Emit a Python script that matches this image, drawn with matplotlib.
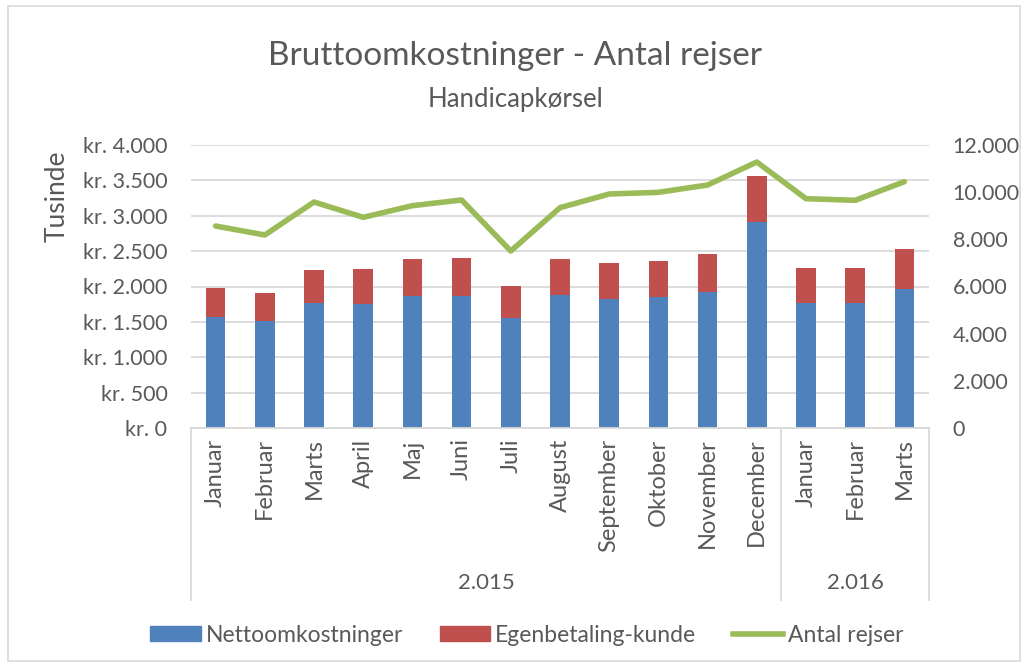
import matplotlib
matplotlib.use("Agg")
import matplotlib.pyplot as plt
from matplotlib.patches import Rectangle, Patch
from matplotlib.lines import Line2D
import numpy as np

months = ["Januar", "Februar", "Marts", "April", "Maj", "Juni", "Juli", "August",
          "September", "Oktober", "November", "December", "Januar", "Februar", "Marts"]
years = ["2.015", "2.016"]
year_counts = [12, 3]
netto = [1565, 1508, 1762, 1757, 1870, 1861, 1559, 1875, 1828, 1847, 1927, 2916, 1767, 1771, 1965]
total = [1975, 1908, 2233, 2243, 2393, 2398, 2007, 2384, 2332, 2365, 2464, 3566, 2257, 2257, 2526]
egen = [t - n for t, n in zip(total, netto)]
rejser = [8565, 8184, 9583, 8933, 9427, 9668, 7505, 9342, 9922, 9993, 10304, 11279, 9724, 9654, 10445]
left_ticks = [0, 500, 1000, 1500, 2000, 2500, 3000, 3500, 4000]
right_ticks = [0, 2000, 4000, 6000, 8000, 10000, 12000]

plt.rcParams['font.family'] = ['Lato', 'DejaVu Sans']
TXT = '#595959'
BLUE = '#4F81BD'
RED = '#C0504D'
GREEN = '#9BBB59'
GRID = '#D9D9D9'

fig = plt.figure(figsize=(10.26, 6.67), dpi=100)
fig.patches.append(Rectangle((8/1026, 6/667), 1012/1026, 655/667, transform=fig.transFigure,
                             fill=False, edgecolor=GRID, linewidth=1.2))

ax = fig.add_axes([191/1026, 1-428/667, 738/1026, 283/667])
x = np.arange(len(months))
ax.bar(x, netto, width=0.4, color=BLUE, zorder=2)
ax.bar(x, egen, width=0.4, bottom=netto, color=RED, zorder=2)
ax.set_xlim(-0.5, len(months) - 0.5)
ax.set_ylim(0, 4000)
ax.set_yticks(left_ticks)
ax.set_yticklabels(["kr. " + f"{v:,}".replace(",", ".") for v in left_ticks])
ax.tick_params(axis='y', length=0, pad=17, labelsize=15.5, labelcolor=TXT)
ax.set_xticks([])
ax.grid(axis='y', color=GRID, linewidth=1.3, zorder=0)
ax.set_axisbelow(True)
for s in ['top', 'right', 'left']:
    ax.spines[s].set_visible(False)
ax.spines['bottom'].set_color(GRID)
ax.spines['bottom'].set_linewidth(1.3)
ax.set_ylabel("Tusinde", fontsize=19, color=TXT)
ax.yaxis.set_label_coords(-0.165, 0.82)

ax2 = ax.twinx()
ax2.plot(x, rejser, color=GREEN, linewidth=4, solid_capstyle='round', zorder=3)
ax2.set_ylim(0, 12000)
ax2.set_yticks(right_ticks)
ax2.set_yticklabels([f"{v:,}".replace(",", ".") for v in right_ticks])
ax2.tick_params(axis='y', length=0, pad=17, labelsize=15.5, labelcolor=TXT)
for s in ['top', 'right', 'left', 'bottom']:
    ax2.spines[s].set_visible(False)

tr = ax.get_xaxis_transform()
for i, m in enumerate(months):
    ax.text(i, -0.037, m, rotation=90, ha='center', va='top', fontsize=17, color=TXT, transform=tr)
bottom_y = -0.608
start = -0.5
for yl, c in zip(years, year_counts):
    ax.add_line(Line2D([start, start], [0, bottom_y], transform=tr, color=GRID, lw=1.3, clip_on=False))
    ax.text(start + c / 2, -0.548, yl, ha='center', va='center', fontsize=16, color=TXT, transform=tr)
    start += c
ax.add_line(Line2D([start, start], [0, bottom_y], transform=tr, color=GRID, lw=1.3, clip_on=False))

fig.text(515/1026, 1-56/667, "Bruttoomkostninger - Antal rejser", ha='center', va='center', fontsize=24, color=TXT)
fig.text(515/1026, 1-99/667, "Handicapkørsel", ha='center', va='center', fontsize=18.5, color=TXT)

handles = [Patch(color=BLUE), Patch(color=RED), Line2D([0], [0], color=GREEN, lw=4)]
fig.legend(handles, ["Nettoomkostninger", "Egenbetaling-kunde", "Antal rejser"], loc='center',
           bbox_to_anchor=(527/1026, 1-635/667), ncol=3, frameon=False, fontsize=16.5,
           labelcolor=TXT, handlelength=2.2, handleheight=0.6, handletextpad=0.22, columnspacing=1.6)

fig.savefig("out.png", dpi=100)
